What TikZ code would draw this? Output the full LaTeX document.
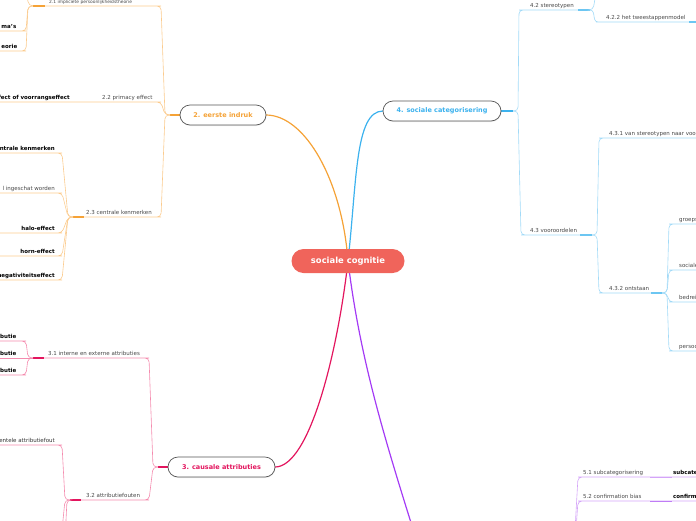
\documentclass[tikz,border=0pt]{standalone}
\usepackage{fontspec}
\setmainfont{DejaVu Sans}
\usetikzlibrary{calc,shadows}
\definecolor{corange}{HTML}{F5A236}
\definecolor{morange}{HTML}{F8B45C}
\definecolor{lorange}{HTML}{FBCB8E}
\definecolor{cpink}{HTML}{E3155E}
\definecolor{mpink}{HTML}{EE4F85}
\definecolor{lpink}{HTML}{F48BAE}
\definecolor{cblue}{HTML}{3CB2EE}
\definecolor{mblue}{HTML}{6CC6F2}
\definecolor{lblue}{HTML}{A2DAF7}
\definecolor{cpurple}{HTML}{A43BF5}
\definecolor{mpurple}{HTML}{BF7CF5}
\definecolor{lpurple}{HTML}{D4A4F8}
\definecolor{centralred}{HTML}{F0645B}
\definecolor{boxborder}{HTML}{555555}
\newcommand\cnL[4]{\draw[#1, line width=0.6pt, rounded corners=4pt] (#2) -- ++(-5,0) -- ($(#3)+(4,0)$) -- (#3) -- (#4);}
\newcommand\cnR[4]{\draw[#1, line width=0.6pt, rounded corners=4pt] (#2) -- ++(5,0) -- ($(#3)+(-4,0)$) -- (#3) -- (#4);}
\tikzset{
  lbl/.style={font=\fontsize{5.5}{6.5}\selectfont, text=black!72, inner sep=0pt, anchor=base west},
  lblr/.style={lbl, anchor=base east},
  blbl/.style={lblr, font=\fontsize{5.5}{6.5}\selectfont\bfseries, text=black},
  blbll/.style={lbl, font=\fontsize{5.5}{6.5}\selectfont\bfseries, text=black},
  topic/.style={draw=boxborder, line width=0.7pt, fill=white, rounded corners=10pt,
    minimum height=20pt, inner sep=0pt, font=\fontsize{6.5}{8}\selectfont\bfseries,
    drop shadow={opacity=0.15, shadow xshift=0.4pt, shadow yshift=-1pt}},
  centralnode/.style={fill=centralred, rounded corners=12pt, minimum width=113pt,
    minimum height=24pt, inner sep=0pt, text=white, font=\fontsize{8.4}{10}\selectfont\bfseries},
  mainline/.style={line width=1.2pt},
  thk/.style={line width=1.2pt},
}
\begin{document}
\begin{tikzpicture}[x=1pt,y=-1pt]
\useasboundingbox (0,0) rectangle (696,520);
\begin{scope}
\clip (0,0) rectangle (696,520);

% ---------- coordinates ----------
\coordinate (cc) at (348,261);
\coordinate (j2) at (170,115);
\coordinate (j3) at (158,467);
\coordinate (j4) at (513,111);
\coordinate (j5) at (566,600);

% ---------- main connectors ----------
\coordinate (b2e) at (266,115);
\coordinate (b3e) at (275,467);
\coordinate (b4w) at (383,111);
\coordinate (p5) at (418,545);
\draw[corange, mainline] (cc) .. controls (342,180) and (305,115) .. (b2e);
\draw[cblue, mainline] (cc) .. controls (357,180) and (355,111) .. (b4w);
\draw[cpink, mainline] (cc) .. controls (338,350) and (310,467) .. (b3e);
\draw[cpurple, mainline] (cc) .. controls (360,360) and (385,440) .. (p5);

% ---------- branch 2 (orange) ----------
\draw[corange, thk] (j2) -- (180,115);
% 2.1
\coordinate (u21a) at (33,6); \coordinate (u21b) at (157,6);
\cnL{lorange}{j2}{u21b}{u21a}
\draw[corange, thk] (u21a) -- ++(12,0);
\node[lbl, font=\fontsize{4.4}{5.5}\selectfont] (t21) at (49,3.4) {2.1 impliciete persoonlijkheidstheorie};
\coordinate (u210) at (25,-12);
\draw[lorange, line width=0.6pt, rounded corners=4pt] (u21a) -- ++(-4,0) -- (u210);
\coordinate (u211a) at (0,31); \coordinate (u211b) at (22,31);
\cnL{lorange}{u21a}{u211b}{u211a}
\node[blbl] (t211) at (16.5,28.2) {ma's};
\coordinate (u212a) at (0,51); \coordinate (u212b) at (22,51);
\cnL{lorange}{u21a}{u212b}{u212a}
\node[blbl] (t212) at (17.5,48.2) {eorie};
% 2.2
\coordinate (u22a) at (0,102); \coordinate (u22b) at (157,102);
\cnL{lorange}{j2}{u22b}{u22a}
\node[lbl] (t22) at (102,99.2) {2.2 primacy effect};
\node[blbl] (t221) at (70,99.2) {fect of voorrangseffect};
% 2.3
\coordinate (u23a) at (73,217); \coordinate (u23b) at (157,217);
\cnL{lorange}{j2}{u23b}{u23a}
\draw[corange, thk] (u23a) -- ++(11,0);
\node[lbl] (t23) at (86,214.2) {2.3 centrale kenmerken};
\foreach \nm/\yy in {a/153, b/193, c/233, d/256, e/280}{
  \coordinate (u23\nm a) at (0,\yy); \coordinate (u23\nm b) at (58,\yy);
  \cnL{lorange}{u23a}{u23\nm b}{u23\nm a}
}
\node[blbl] (t231) at (55,150.2) {ntrale kenmerken};
\node[lblr] (t232) at (55,190.2) {l ingeschat worden};
\node[blbl] (t233) at (55,230.2) {halo-effect};
\node[blbl] (t234) at (55,253.2) {horn-effect};
\node[blbl] (t235) at (55,277.2) {negativiteitseffect};

% ---------- branch 3 (pink) ----------
\draw[cpink, thk] (j3) -- (168,467);
% 3.1
\coordinate (u31a) at (33,358); \coordinate (u31b) at (145,358);
\cnL{lpink}{j3}{u31b}{u31a}
\draw[cpink, thk] (u31a) -- ++(11,0);
\node[lbl] (t31) at (48,355.2) {3.1 interne en externe attributies};
\coordinate (u312a) at (0,358);
\draw[lpink, line width=0.6pt] (u31a) -- (u312a);
\coordinate (u311a) at (0,341); \coordinate (u311b) at (22,341);
\cnL{lpink}{u31a}{u311b}{u311a}
\coordinate (u313a) at (0,375); \coordinate (u313b) at (22,375);
\cnL{lpink}{u31a}{u313b}{u313a}
\node[blbl] (t311) at (16.5,338.2) {butie};
\node[blbl] (t312) at (16.5,355.2) {butie};
\node[blbl] (t313) at (16.5,372.2) {butie};
% 3.2
\coordinate (u32a) at (70,500); \coordinate (u32b) at (145,500);
\cnL{lpink}{j3}{u32b}{u32a}
\draw[cpink, thk] (u32a) -- ++(11,0);
\node[lbl] (t32) at (86,497.2) {3.2 attributiefouten};
\coordinate (u321a) at (0,445); \coordinate (u321b) at (58,445);
\cnL{lpink}{u32a}{u321b}{u321a}
\node[lblr, text=black!80] (t321) at (55,442.2) {entele attributiefout};
\coordinate (d321) at (61,540); \coordinate (d322) at (65,540);
\draw[lpink, line width=0.6pt, rounded corners=4pt] (u32a) -- ++(-5,0) -- (d321);
\draw[lpink, line width=0.6pt, rounded corners=4pt] (u32a) -- ++(-3,0) -- (d322);

% ---------- branch 4 (blue) ----------
\draw[cblue, thk] (501,111) -- (j4);
% 4.2
\coordinate (u42a) at (523,10); \coordinate (u42b) at (590,10);
\cnR{lblue}{j4}{u42a}{u42b}
\draw[mblue, thk] (u42b) -- ++(-12,0);
\node[lbl] (t42) at (530,7.2) {4.2 stereotypen};
\coordinate (u420) at (597,-12);
\draw[lblue, line width=0.6pt, rounded corners=4pt] (u42b) -- ++(3,0) -- (u420);
\coordinate (u422a) at (599,22); \coordinate (u422b) at (700,22);
\draw[lblue, line width=0.6pt, rounded corners=3pt] (u42b) -- ++(3,0) -- (595,22) -- (u422a) -- (u422b);
\draw[mblue, thk] (689,22) -- (u422b);
\node[lbl] (t422) at (606,19.2) {4.2.2 het tweestappenmodel};
% 4.3
\coordinate (u43a) at (525,235); \coordinate (u43b) at (592,235);
\cnR{lblue}{j4}{u43a}{u43b}
\draw[mblue, thk] (u43b) -- ++(-12,0);
\node[lbl] (t43) at (530,232.2) {4.3 vooroordelen};
\coordinate (u431a) at (603,138); \coordinate (u431b) at (700,138);
\cnR{lblue}{u43b}{u431a}{u431b}
\node[lbl] (t431) at (609,135.2) {4.3.1 van stereotypen naar voo};
\coordinate (u432a) at (603,293); \coordinate (u432b) at (662,293);
\cnR{lblue}{u43b}{u432a}{u432b}
\draw[mblue, thk] (u432b) -- ++(-11,0);
\node[lbl] (t432) at (609,290.2) {4.3.2 ontstaan};
\foreach \nm/\yy in {a/224, b/270, c/302, d/351}{
  \coordinate (u432\nm a) at (673,\yy); \coordinate (u432\nm b) at (700,\yy);
  \cnR{lblue}{u432b}{u432\nm a}{u432\nm b}
}
\node[lbl] (t4321) at (679,221.2) {groeps};
\node[lbl] (t4322) at (679,267.2) {sociale};
\node[lbl] (t4323) at (679,299.2) {bedrei};
\node[lbl] (t4324) at (679,348.2) {persoo};

% ---------- branch 5 (purple) ----------
\coordinate (u51a) at (582,477); \coordinate (u51b) at (700,477);
\cnR{lpurple}{j5}{u51a}{u51b}
\draw[lpurple, line width=0.9pt] (650,477) -- (672,477);
\node[lbl] (t51) at (583,474.2) {5.1 subcategorisering};
\node[blbll] (t511) at (673,474.2) {subcate};
\coordinate (u52a) at (582,501); \coordinate (u52b) at (700,501);
\cnR{lpurple}{j5}{u52a}{u52b}
\draw[mpurple, line width=0.9pt] (650,501) -- (672,501);
\node[lbl] (t52) at (583,498.2) {5.2 confirmation bias};
\node[blbll] (t521) at (673,498.2) {confirm};

% ---------- topic boxes ----------
\node[topic, text=corange, minimum width=86pt] (b2) at (223,115) {2. eerste indruk};
\node[topic, text=cpink, minimum width=107pt] (b3) at (221.5,467) {3. causale attributies};
\node[topic, text=cblue, minimum width=118pt] (b4) at (442,111) {4. sociale categorisering};
\node[centralnode] (c) at (cc) {sociale cognitie};
\end{scope}
\end{tikzpicture}
\end{document}
